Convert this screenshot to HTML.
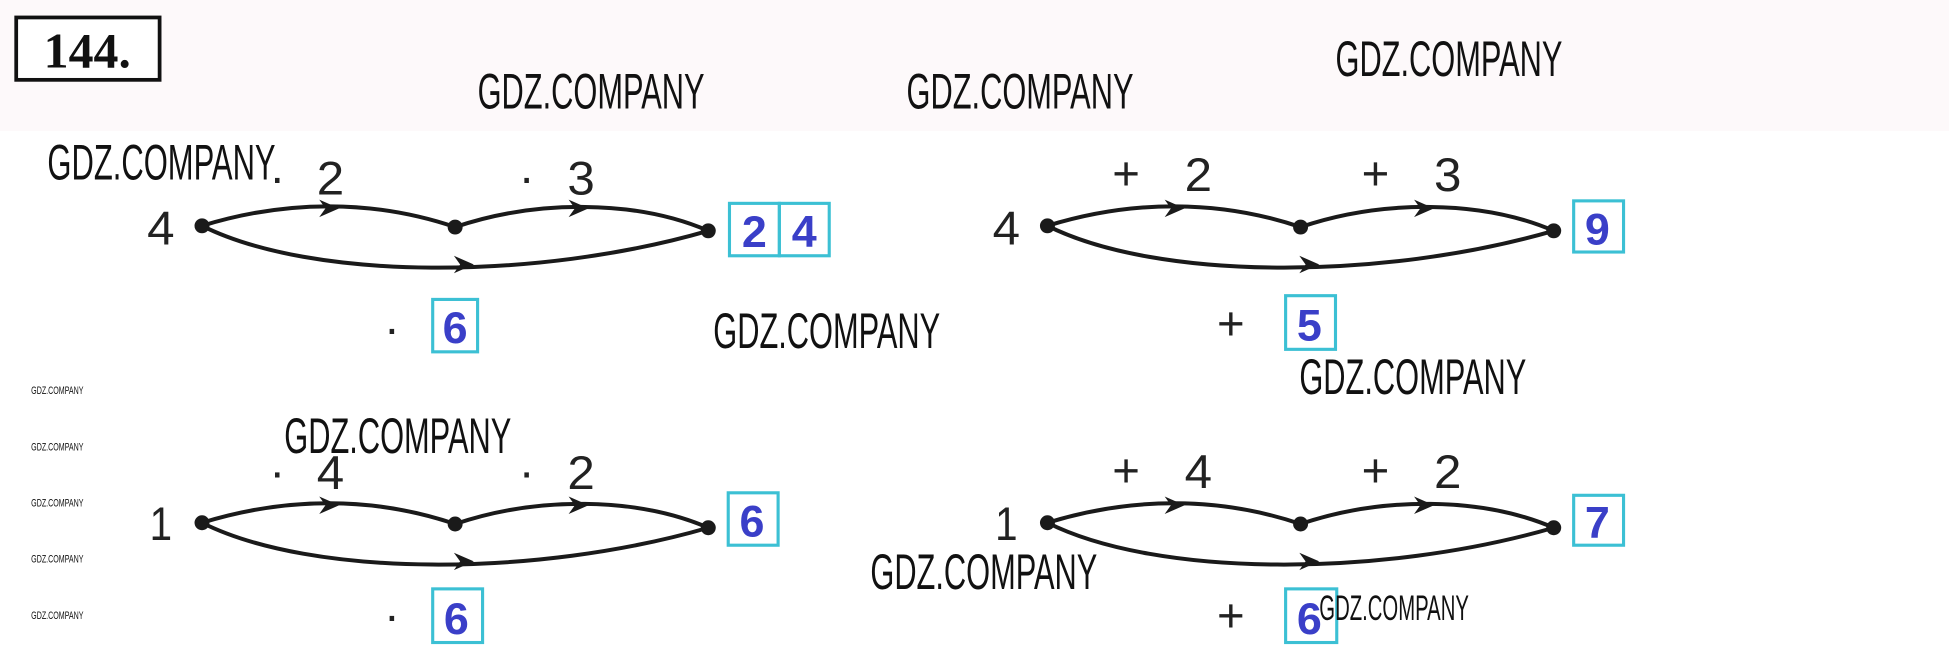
<!DOCTYPE html>
<html><head><meta charset="utf-8"><style>
html,body{margin:0;padding:0;background:#fff;width:1949px;height:655px;overflow:hidden}
svg{display:block}
.w{font-family:"Liberation Sans",sans-serif;fill:#111}
.n{font-family:"Liberation Sans",sans-serif;font-size:38px;fill:#222}
.b{font-family:"Liberation Sans",sans-serif;font-size:36px;font-weight:bold;fill:#3a3fc8}
.bx{fill:none;stroke:#3cc0d4;stroke-width:2.5}
.c{fill:none;stroke:#1a1a1a;stroke-width:3.2}
</style></head><body>
<svg width="1949" height="655" viewBox="0 0 1563 525" preserveAspectRatio="none" xmlns="http://www.w3.org/2000/svg">
<defs>
<g id="arr"><path d="M-14,-7 L2,0 L-14,7 L-9,0 Z" fill="#1a1a1a"/></g>
<g id="dia">
<path class="c" d="M162,181 C230,160 300,160 365,182"/>
<path class="c" d="M365,182 C430,160 510,160 568,185"/>
<path class="c" d="M162,181 C250,225 430,225 568,185"/>
<use href="#arr" x="270" y="167"/>
<use href="#arr" x="470" y="167"/>
<use href="#arr" x="378" y="212"/>
<circle cx="162" cy="181" r="6" fill="#1a1a1a"/>
<circle cx="365" cy="182" r="6" fill="#1a1a1a"/>
<circle cx="568" cy="185" r="6" fill="#1a1a1a"/>
</g>
</defs>
<rect x="0" y="0" width="1563" height="105" fill="#fdf9fa"/>
<rect x="13" y="14" width="115" height="50" fill="#fff" stroke="#111" stroke-width="3"/>
<text x="70" y="54" text-anchor="middle" font-family="Liberation Serif,serif" font-weight="bold" font-size="40" fill="#111">144.</text>

<!-- diagram 1 -->
<use href="#dia"/>
<text class="n" x="118" y="196" textLength="22" lengthAdjust="spacingAndGlyphs">4</text>
<text class="n" x="216" y="155">·</text><text class="n" x="254" y="156" textLength="22" lengthAdjust="spacingAndGlyphs">2</text>
<text class="n" x="416" y="155">·</text><text class="n" x="455" y="156" textLength="22" lengthAdjust="spacingAndGlyphs">3</text>
<rect class="bx" x="585" y="163" width="40" height="42"/><rect class="bx" x="625" y="163" width="40" height="42"/>
<text class="b" x="595" y="198">2</text><text class="b" x="635" y="198">4</text>
<text class="n" x="308" y="276">·</text>
<rect class="bx" x="347" y="240" width="36" height="42"/><text class="b" x="355" y="275">6</text>

<!-- diagram 2 -->
<use href="#dia" x="678"/>
<text class="n" x="796" y="196" textLength="22" lengthAdjust="spacingAndGlyphs">4</text>
<text class="n" x="892" y="152">+</text><text class="n" x="950" y="153" textLength="22" lengthAdjust="spacingAndGlyphs">2</text>
<text class="n" x="1092" y="152">+</text><text class="n" x="1150" y="153" textLength="22" lengthAdjust="spacingAndGlyphs">3</text>
<rect class="bx" x="1262" y="161" width="40" height="41"/><text class="b" x="1271" y="196">9</text>
<text class="n" x="976" y="272">+</text>
<rect class="bx" x="1031" y="237" width="40" height="43"/><text class="b" x="1040" y="273">5</text>

<!-- diagram 3 -->
<use href="#dia" y="238"/>
<text class="n" x="120" y="433" textLength="18" lengthAdjust="spacingAndGlyphs">1</text>
<text class="n" x="216" y="391">·</text><text class="n" x="254" y="392" textLength="22" lengthAdjust="spacingAndGlyphs">4</text>
<text class="n" x="416" y="391">·</text><text class="n" x="455" y="392" textLength="22" lengthAdjust="spacingAndGlyphs">2</text>
<rect class="bx" x="584" y="395" width="40" height="42"/><text class="b" x="593" y="430">6</text>
<text class="n" x="308" y="506">·</text>
<rect class="bx" x="347" y="472" width="40" height="43"/><text class="b" x="356" y="508">6</text>

<!-- diagram 4 -->
<use href="#dia" x="678" y="238"/>
<text class="n" x="798" y="433" textLength="18" lengthAdjust="spacingAndGlyphs">1</text>
<text class="n" x="892" y="390">+</text><text class="n" x="950" y="391" textLength="22" lengthAdjust="spacingAndGlyphs">4</text>
<text class="n" x="1092" y="390">+</text><text class="n" x="1150" y="391" textLength="22" lengthAdjust="spacingAndGlyphs">2</text>
<rect class="bx" x="1262" y="397" width="40" height="40"/><text class="b" x="1271" y="431">7</text>
<text class="n" x="976" y="506">+</text>
<rect class="bx" x="1031" y="472" width="41" height="43"/><text class="b" x="1040" y="508">6</text>

<!-- watermarks -->
<g class="w" font-size="40">
<text x="38" y="144" textLength="183" lengthAdjust="spacingAndGlyphs">GDZ.COMPANY</text>
<text x="383" y="87" textLength="182" lengthAdjust="spacingAndGlyphs">GDZ.COMPANY</text>
<text x="727" y="87" textLength="182" lengthAdjust="spacingAndGlyphs">GDZ.COMPANY</text>
<text x="1071" y="61" textLength="182" lengthAdjust="spacingAndGlyphs">GDZ.COMPANY</text>
<text x="572" y="279" textLength="182" lengthAdjust="spacingAndGlyphs">GDZ.COMPANY</text>
<text x="1042" y="316" textLength="182" lengthAdjust="spacingAndGlyphs">GDZ.COMPANY</text>
<text x="228" y="363" textLength="182" lengthAdjust="spacingAndGlyphs">GDZ.COMPANY</text>
<text x="698" y="472" textLength="182" lengthAdjust="spacingAndGlyphs">GDZ.COMPANY</text>
</g>
<text class="w" x="1058" y="497" font-size="28" textLength="120" lengthAdjust="spacingAndGlyphs">GDZ.COMPANY</text>
<g class="w" font-size="9">
<text x="25" y="316" textLength="42" lengthAdjust="spacingAndGlyphs">GDZ.COMPANY</text>
<text x="25" y="361" textLength="42" lengthAdjust="spacingAndGlyphs">GDZ.COMPANY</text>
<text x="25" y="406" textLength="42" lengthAdjust="spacingAndGlyphs">GDZ.COMPANY</text>
<text x="25" y="451" textLength="42" lengthAdjust="spacingAndGlyphs">GDZ.COMPANY</text>
<text x="25" y="496" textLength="42" lengthAdjust="spacingAndGlyphs">GDZ.COMPANY</text>
</g>
</svg>
</body></html>
